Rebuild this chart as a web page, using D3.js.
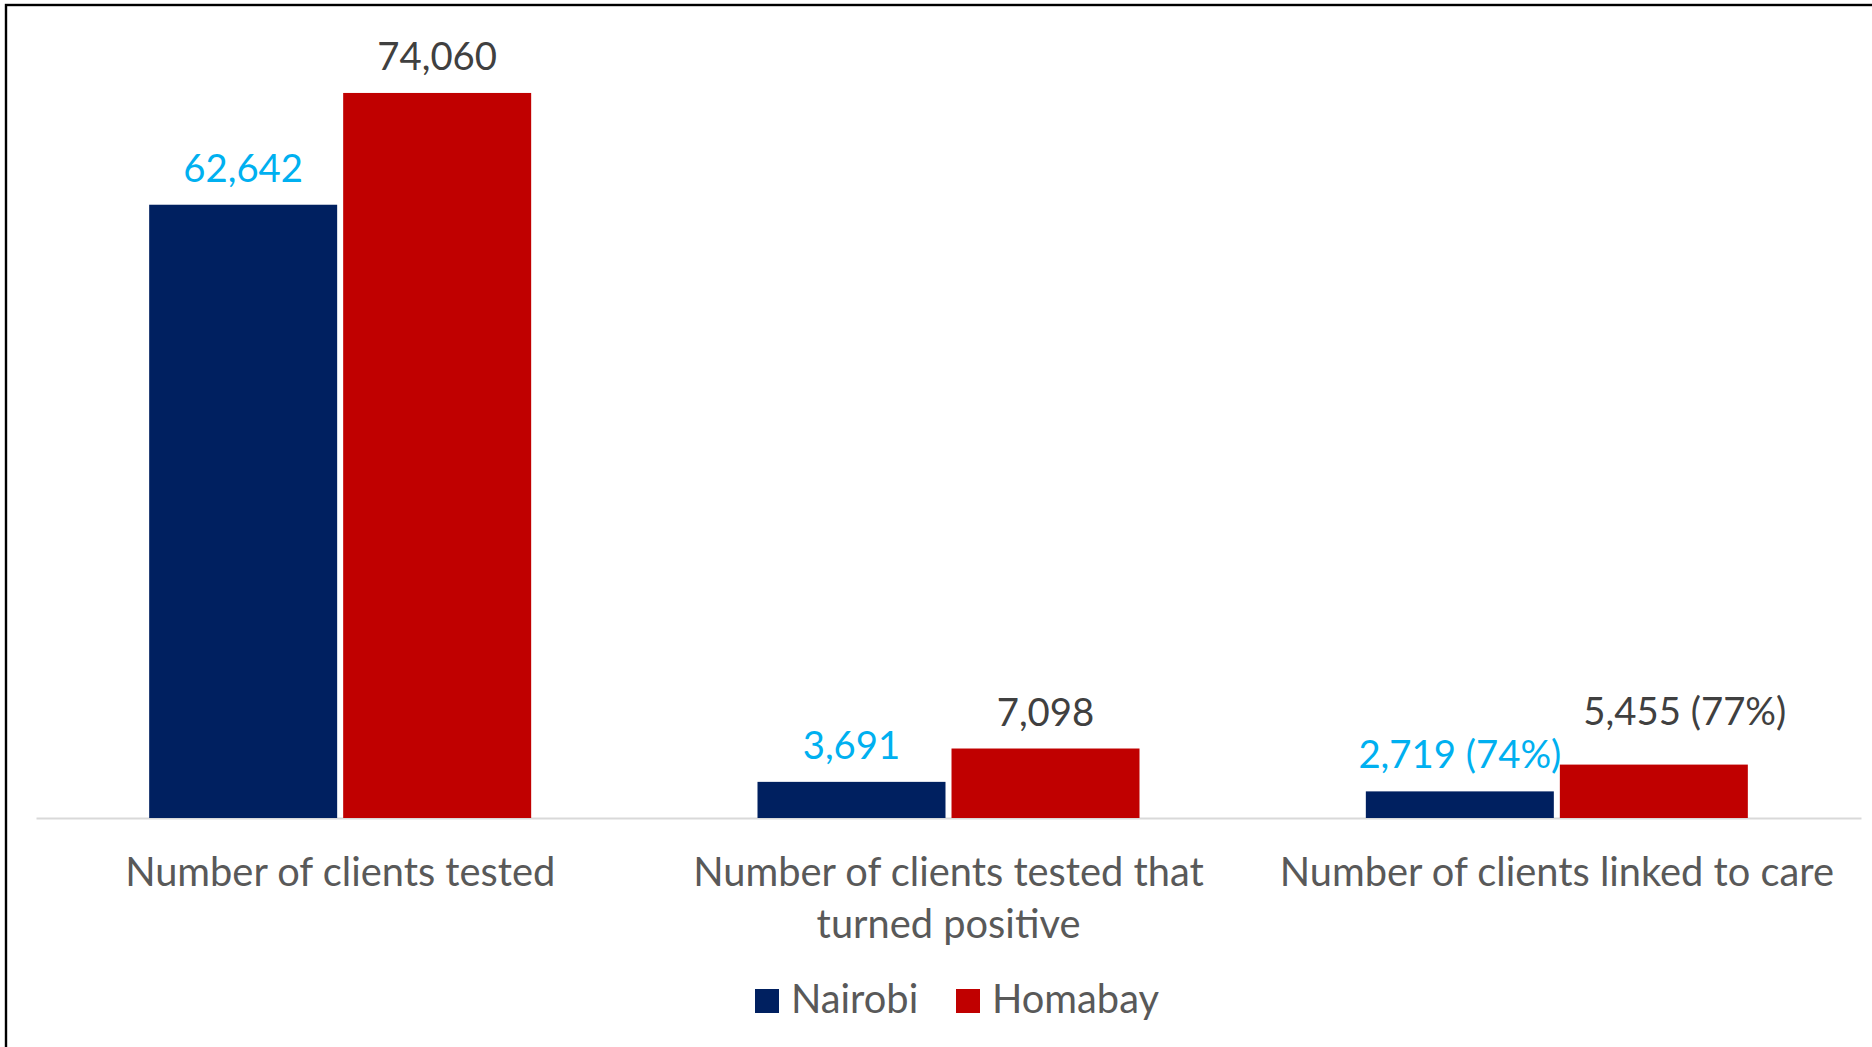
<!DOCTYPE html>
<html>
<head>
<meta charset="utf-8">
<script src="https://cdn.jsdelivr.net/npm/d3@7"></script>
<style>
  html, body { margin: 0; padding: 0; background: #fff; }
  svg { display: block; }
  text { font-family: Lato, "Open Sans", sans-serif; }
</style>
</head>
<body>
<svg id="chart" width="1872" height="1047"></svg>
<script>
// HIV testing cascade, Nairobi vs Homabay
const categories = [
  "Number of clients tested",
  "Number of clients tested that turned positive",
  "Number of clients linked to care"
];
const seriesNames = ["Nairobi", "Homabay"];
const nairobiValues = [62642, 3691, 2719];
const homabayValues = [74060, 7098, 5455];
const seriesColors = ["#002060", "#C00000"];
const labelColors = ["#00B0F0", "#404040"];

const W = 1872, H = 1047;
const textSize = 39.8;   // category and legend text
const valueSize = 38.3;  // data labels
const svg = d3.select("#chart");

// outer frame
svg.append("rect")
  .attr("x", 6).attr("y", 5)
  .attr("width", W + 20).attr("height", H + 20)
  .attr("fill", "none").attr("stroke", "#000").attr("stroke-width", 2.4);

const baseY = 818;
const x = d3.scaleBand().domain(categories).range([36, 1861]).paddingInner(0).paddingOuter(0);
const groupW = 382;
const xs = d3.scaleBand().domain(seriesNames).range([0, groupW]).paddingInner(0.031).paddingOuter(0);
const y = d3.scaleLinear().domain([0, 80000]).range([baseY, 34.8]);

const rows = categories.map((c, i) => ({
  category: c,
  values: [nairobiValues[i], homabayValues[i]]
}));

const fmt = d3.format(",");
const pct = d3.format(".0%");
// label text: linked-to-care values also show their share of positives
function labelText(rowIdx, seriesIdx) {
  const v = rows[rowIdx].values[seriesIdx];
  if (rowIdx === 2) {
    return fmt(v) + " (" + pct(v / rows[1].values[seriesIdx]) + ")";
  }
  return fmt(v);
}

// category axis along the baseline
const axis = svg.append("g")
  .attr("transform", `translate(0,${baseY})`)
  .call(d3.axisBottom(x).tickSize(0).tickSizeOuter(0));
axis.select(".domain").attr("stroke", "#d9d9d9").attr("stroke-width", 2);
axis.selectAll(".tick text")
  .attr("fill", "#595959")
  .style("font-size", textSize + "px")
  .style("font-family", "Lato, 'Open Sans', sans-serif")
  .each(function(d) {
    const t = d3.select(this);
    const words = d.split(" ");
    const maxW = x.step() - 20;
    t.text(null).attr("y", 0).attr("dy", null);
    let line = [];
    let lines = [];
    const probe = t.append("tspan");
    words.forEach(w => {
      line.push(w);
      probe.text(line.join(" "));
      if (probe.node().getComputedTextLength() > maxW && line.length > 1) {
        line.pop();
        lines.push(line.join(" "));
        line = [w];
      }
    });
    lines.push(line.join(" "));
    probe.remove();
    lines.forEach((l, i) => {
      t.append("tspan").attr("x", 0).attr("y", 68 + i * 52).text(l);
    });
  });

// bars
const groups = svg.append("g").selectAll("g")
  .data(rows).join("g")
  .attr("transform", d => `translate(${x(d.category) + (x.bandwidth() - groupW) / 2},0)`);

groups.selectAll("rect")
  .data(d => d.values.map((v, j) => ({ v, j })))
  .join("rect")
  .attr("x", d => xs(seriesNames[d.j]))
  .attr("y", d => y(d.v))
  .attr("width", xs.bandwidth())
  .attr("height", d => baseY - y(d.v))
  .attr("fill", d => seriesColors[d.j]);

// value labels above the bars (the Homabay linked-to-care label is nudged up and right)
groups.each(function(row, ri) {
  d3.select(this).selectAll("text.value")
    .data(row.values.map((v, j) => ({ v, j })))
    .join("text")
    .attr("class", "value")
    .attr("text-anchor", "middle")
    .attr("x", d => xs(seriesNames[d.j]) + xs.bandwidth() / 2 + (ri === 2 && d.j === 1 ? 31 : 0))
    .attr("y", d => y(d.v) - 23 - (ri === 2 && d.j === 1 ? 17 : 0))
    .attr("fill", d => labelColors[d.j])
    .style("font-size", valueSize + "px")
    .text(d => labelText(ri, d.j));
});

// legend
const legend = svg.append("g");
const legendItems = [
  { name: seriesNames[0], color: seriesColors[0], x: 755 },
  { name: seriesNames[1], color: seriesColors[1], x: 956 }
];
legendItems.forEach(it => {
  legend.append("rect")
    .attr("x", it.x).attr("y", 989).attr("width", 24).attr("height", 24)
    .attr("fill", it.color);
  legend.append("text")
    .attr("x", it.x + 36).attr("y", 1013)
    .attr("fill", "#595959")
    .style("font-size", textSize + "px")
    .text(it.name);
});
</script>
</body>
</html>
